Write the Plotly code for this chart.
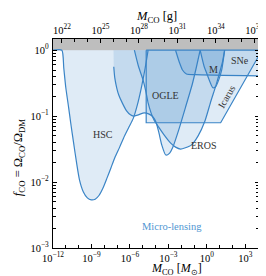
import numpy as np
import plotly.graph_objects as go

# ---- data (log10 of mass in solar masses, log10 of f_CO) ----
hsc_logm = [-12.0, -11.31, -11.16, -11.0, -10.78, -10.62, -10.39, -10.16, -9.93, -9.63, -9.32, -9.02,
            -8.71, -8.40, -8.10, -7.79, -7.49, -7.18, -6.80, -6.49, -6.11, -5.73, -5.42, -5.11, -4.81, -4.58]
hsc_logf = [0.0, 0.0, -0.27, -0.57, -0.87, -1.10, -1.41, -1.71, -1.97, -2.15, -2.24, -2.27,
            -2.26, -2.20, -2.09, -1.94, -1.79, -1.63, -1.47, -1.33, -1.18, -1.03, -0.83, -0.57, -0.27, 0.0]

ogle_logm = [-7.26, -7.18, -7.03, -6.87, -6.57, -6.26, -5.96, -5.73, -5.34, -4.88, -4.50, -4.20, -3.97,
             -3.74, -3.51, -3.20, -2.90, -2.67, -2.21, -1.67, -1.14, -0.83, -0.52]
ogle_logf = [-0.25, -0.42, -0.57, -0.68, -0.81, -0.92, -0.98, -1.00, -0.98, -0.95, -0.97, -1.01, -1.09,
             -1.25, -1.44, -1.59, -1.56, -1.48, -1.22, -0.87, -0.52, -0.27, 0.0]

eros_logm = [-5.65, -5.34, -4.96, -4.73, -4.58, -4.35, -4.12, -3.81, -3.35, -2.82, -2.44, -2.05, -1.67,
             -1.21, -0.68, -0.14, 0.32, 0.70, 1.01, 1.24, 1.39]
eros_logf = [0.0, -0.24, -0.46, -0.65, -0.80, -0.95, -1.06, -1.15, -1.28, -1.41, -1.47, -1.50, -1.48,
             -1.44, -1.30, -1.07, -0.77, -0.54, -0.33, -0.16, 0.0]

macho_logm = [-0.52, -0.22, 0.01, 0.24, 0.47, 0.70, 0.93, 1.16, 1.39]
macho_logf = [0.0, -0.24, -0.36, -0.48, -0.57, -0.55, -0.45, -0.30, 0.0]

sne_logm = [-2.44, -2.13, -1.90, -1.59, -0.91, 4.3]
sne_logf = [0.0, -0.19, -0.30, -0.36, -0.37, -0.39]

icarus_logm = [-4.73, -4.73, 1.08, 4.3]
icarus_logf = [0.0, -1.10, -1.10, 0.0]

labels = ["HSC", "OGLE", "EROS", "M", "SNe"]
label_logm = [-8.1, -3.2, -0.25, 0.55, 2.55]
label_logf = [-1.28, -0.69, -1.45, -0.30, -0.16]

x_tick_exp = [-12, -9, -6, -3, 0, 3]
x2_tick_exp = [22, 25, 28, 31, 34, 37]
y_tick_exp = [-3, -2, -1, 0]

G_PER_MSUN_LOG = 33.2986
XMIN, XMAX = -12.0, 4.07
YMIN, YMAX = -3.0, 0.17

LINE = "rgb(58,132,198)"
FILL = "rgba(58,132,198,0.16)"
FONT = "Liberation Serif"

fig = go.Figure()


def pow_label(e):
    s = str(e).replace("-", "\u2212")
    return "10<sup>" + s + "</sup>"


def region(lm, lf, top_left=None):
    pm = list(lm)
    pf = list(lf)
    if top_left is not None:
        pm = [top_left] + pm
        pf = [0.0] + pf
    if pf[-1] != 0.0:
        pm = pm + [pm[-1]]
        pf = pf + [0.0]
    fig.add_trace(go.Scatter(x=10 ** np.array(pm), y=10 ** np.array(pf), mode="lines",
                             fill="toself", fillcolor=FILL, line=dict(width=0),
                             hoverinfo="skip", showlegend=False))
    fig.add_trace(go.Scatter(x=10 ** np.array(lm), y=10 ** np.array(lf), mode="lines",
                             line=dict(color=LINE, width=1.2, shape="spline", smoothing=0.6),
                             hoverinfo="skip", showlegend=False))


region(hsc_logm, hsc_logf)
region(ogle_logm, ogle_logf, top_left=-7.28)
region(eros_logm, eros_logf)
region(macho_logm, macho_logf)
region(sne_logm, sne_logf)
fig.add_trace(go.Scatter(x=10 ** np.array(icarus_logm + [icarus_logm[0]]),
                         y=10 ** np.array(icarus_logf + [icarus_logf[0]]), mode="lines",
                         fill="toself", fillcolor=FILL, line=dict(color=LINE, width=1.2),
                         hoverinfo="skip", showlegend=False))

# invisible trace for top axis
fig.add_trace(go.Scatter(x=[10 ** (XMIN + G_PER_MSUN_LOG)], y=[1e-2], xaxis="x2", mode="markers",
                         marker=dict(opacity=0), hoverinfo="skip", showlegend=False))

# excluded f > 1 band
fig.add_shape(type="rect", xref="paper", x0=0, x1=1, yref="y", y0=1, y1=10 ** YMAX,
              fillcolor="rgb(190,190,190)", line=dict(width=0), layer="below")

for t, lm, lf in zip(labels, label_logm, label_logf):
    fig.add_annotation(x=lm, y=lf, text=t, showarrow=False,
                       font=dict(family=FONT, size=10, color="rgb(50,50,50)"))
fig.add_annotation(x=1.54, y=-0.70, text="Icarus", showarrow=False, textangle=-60,
                   font=dict(family=FONT, size=10, color="rgb(50,50,50)"))
fig.add_annotation(x=-2.74, y=-2.68, text="Micro-lensing", showarrow=False,
                   font=dict(family=FONT, size=10.5, color="rgb(80,150,210)"))

# axis titles
fig.add_annotation(xref="paper", yref="paper", x=0.6, y=-0.102, yanchor="middle", showarrow=False,
                   text="<i>M</i><sub>CO</sub> [<i>M</i><sub>⊙</sub>]",
                   font=dict(family=FONT, size=12, color="black"))
fig.add_annotation(xref="paper", yref="paper", x=0.5, y=1.105, yanchor="middle", showarrow=False,
                   text="<i>M</i><sub>CO</sub> [g]",
                   font=dict(family=FONT, size=12.5, color="black"))
fig.add_annotation(xref="paper", yref="paper", x=-0.165, y=0.43, xanchor="center", yanchor="middle",
                   showarrow=False, textangle=-90,
                   text="<i>f</i><sub>CO</sub> = Ω<sub>CO</sub>/Ω<sub>DM</sub>",
                   font=dict(family=FONT, size=12.5, color="black"))

axis_common = dict(type="log", showline=True, linecolor="black", linewidth=1.3,
                   ticks="inside", ticklen=4, tickcolor="black", showgrid=False, zeroline=False,
                   tickfont=dict(family=FONT, size=10.5, color="black"))

fig.update_layout(
    width=266, height=276,
    margin=dict(l=45, r=11, t=31, b=36),
    plot_bgcolor="white", paper_bgcolor="white",
    font=dict(family=FONT, color="black"),
    xaxis=dict(range=[XMIN, XMAX], tickmode="array",
               tickvals=[10.0 ** e for e in x_tick_exp], ticktext=[pow_label(e) for e in x_tick_exp],
               mirror=False, ticklabelstandoff=0,
               minor=dict(ticks="inside", ticklen=2.5, dtick=1, tickcolor="black"),
               **axis_common),
    xaxis2=dict(overlaying="x", side="top", anchor="y",
                range=[XMIN + G_PER_MSUN_LOG, XMAX + G_PER_MSUN_LOG], tickmode="array",
                tickvals=[10.0 ** e for e in x2_tick_exp], ticktext=[pow_label(e) for e in x2_tick_exp],
                ticklabelstandoff=0,
                minor=dict(ticks="inside", ticklen=2.5, dtick=1, tickcolor="black"),
                **axis_common),
    yaxis=dict(range=[YMIN, YMAX], tickmode="array",
               tickvals=[10.0 ** e for e in y_tick_exp], ticktext=[pow_label(e) for e in y_tick_exp],
               mirror="ticks", ticklabelstandoff=1,
               minor=dict(ticks="inside", ticklen=2.5, dtick="D1", tickcolor="black"),
               **axis_common),
)

fig.write_html("out.html")
